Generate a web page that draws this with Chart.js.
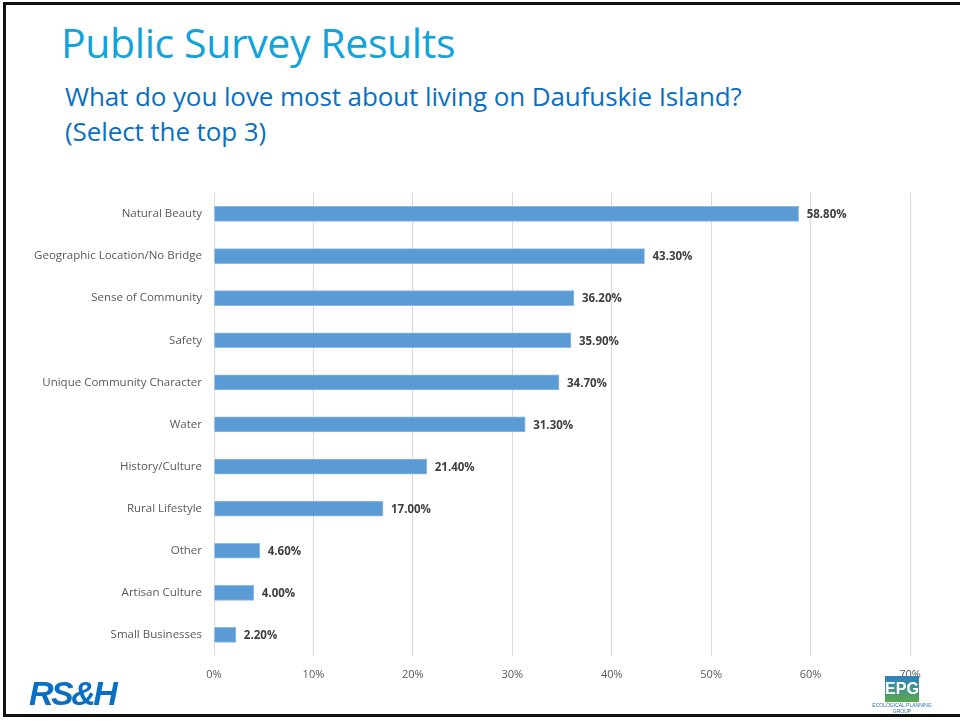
<!DOCTYPE html>
<html>
<head>
  <meta charset="utf-8">
  <title>Public Survey Results</title>
  <script src="https://cdn.jsdelivr.net/npm/chart.js@4.4.0/dist/chart.umd.min.js"></script>
  <style>
    html, body {
      margin: 0;
      padding: 0;
      background: #fff;
    }
    .slide {
      position: relative;
      width: 960px;
      height: 721px;
      overflow: hidden;
      font-family: "Open Sans", "Noto Sans", Arial, sans-serif;
    }
    .frame {
      position: absolute;
      left: 3px;
      top: 2px;
      width: 960px;
      height: 715px;
      border-top: 3px solid #111;
      border-left: 3px solid #111;
      border-bottom: 3px solid #111;
      box-sizing: border-box;
    }
    h1 {
      position: absolute;
      left: 61px;
      top: 14px;
      margin: 0;
      font-weight: 400;
      font-size: 41px;
      color: #12A3DB;
      letter-spacing: -0.4px;
    }
    .subtitle {
      position: absolute;
      left: 65px;
      top: 79px;
      margin: 0;
      font-size: 26px;
      line-height: 35px;
      color: #0A6FC2;
      letter-spacing: -0.1px;
    }
    .chart-box {
      position: absolute;
      left: 0;
      top: 174px;
      width: 960px;
      height: 527px;
    }
    .rsh {
      position: absolute;
      left: 29px;
      top: 674px;
      font-family: "Liberation Sans", Arial, sans-serif;
      font-weight: bold;
      font-style: italic;
      font-size: 34px;
      color: #0A6FC2;
      letter-spacing: -2.5px;
    }
    .epg {
      position: absolute;
      left: 872px;
      top: 676px;
      width: 60px;
      text-align: center;
    }
    .epg .mark {
      margin: 0 auto;
      width: 34px;
      height: 26px;
      background: linear-gradient(#2f7fc0, #5aa94a);
      color: #fff;
      font: bold 16px "Liberation Sans", Arial, sans-serif;
      line-height: 26px;
    }
    .epg .name {
      font: 5px "Liberation Sans", Arial, sans-serif;
      color: #2f6fa8;
      line-height: 6px;
    }
  </style>
</head>
<body>
<div class="slide">
  <div class="frame"></div>
  <h1>Public Survey Results</h1>
  <div class="subtitle">What do you love most about living on Daufuskie Island?<br>(Select the top 3)</div>
  <div class="chart-box">
    <canvas id="surveyChart"></canvas>
  </div>
  <div class="rsh">RS&amp;H</div>
  <div class="epg">
    <div class="mark">EPG</div>
    <div class="name">ECOLOGICAL PLANNING<br>GROUP</div>
  </div>
</div>

<script>
// answers and share of respondents (%)
const categories = [
  'Natural Beauty',
  'Geographic Location/No Bridge',
  'Sense of Community',
  'Safety',
  'Unique Community Character',
  'Water',
  'History/Culture',
  'Rural Lifestyle',
  'Other',
  'Artisan Culture',
  'Small Businesses'
];
const percentages = [58.8, 43.3, 36.2, 35.9, 34.7, 31.3, 21.4, 17.0, 4.6, 4.0, 2.2];
const xTicks = [0, 10, 20, 30, 40, 50, 60, 70];

// draws "58.80%" etc at the end of each bar
const valueLabels = {
  id: 'valueLabels',
  afterDatasetsDraw(chart) {
    const ctx = chart.ctx;
    const meta = chart.getDatasetMeta(0);
    ctx.save();
    ctx.font = 'bold 11.5px "Open Sans", "Noto Sans", Arial, sans-serif';
    ctx.fillStyle = '#404040';
    ctx.textAlign = 'left';
    ctx.textBaseline = 'middle';
    meta.data.forEach((bar, i) => {
      ctx.fillText(percentages[i].toFixed(2) + '%', bar.x + 8, bar.y + 1);
    });
    ctx.restore();
  }
};

const ctx = document.getElementById('surveyChart').getContext('2d');
new Chart(ctx, {
  type: 'bar',
  data: {
    labels: categories,
    datasets: [{
      data: percentages,
      backgroundColor: '#5B9BD5',
      borderColor: '#8DB9E4',
      borderWidth: 1,
      borderSkipped: 'left',
      barThickness: 15
    }]
  },
  options: {
    indexAxis: 'y',
    responsive: true,
    maintainAspectRatio: false,
    animation: false,
    layout: {
      padding: { left: 0, right: 50, top: 6, bottom: 0 }
    },
    scales: {
      x: {
        min: 0,
        max: 70,
        afterBuildTicks(scale) {
          scale.ticks = xTicks.map(v => ({ value: v }));
        },
        afterFit(scale) {
          scale.height = 45;
        },
        grid: {
          color: '#D9D9D9',
          lineWidth: 1,
          drawTicks: false
        },
        border: { display: false },
        ticks: {
          padding: 12,
          color: '#595959',
          font: { family: '"Open Sans", "Noto Sans", Arial, sans-serif', size: 11 },
          callback: v => v + '%'
        }
      },
      y: {
        afterFit(scale) {
          scale.width = 214;
        },
        grid: { display: false, drawTicks: false },
        border: { display: false },
        ticks: {
          padding: 12,
          color: '#595959',
          font: { family: '"Open Sans", "Noto Sans", Arial, sans-serif', size: 11.5 }
        }
      }
    },
    plugins: {
      legend: { display: false },
      tooltip: { enabled: false }
    }
  },
  plugins: [valueLabels]
});
</script>
</body>
</html>
